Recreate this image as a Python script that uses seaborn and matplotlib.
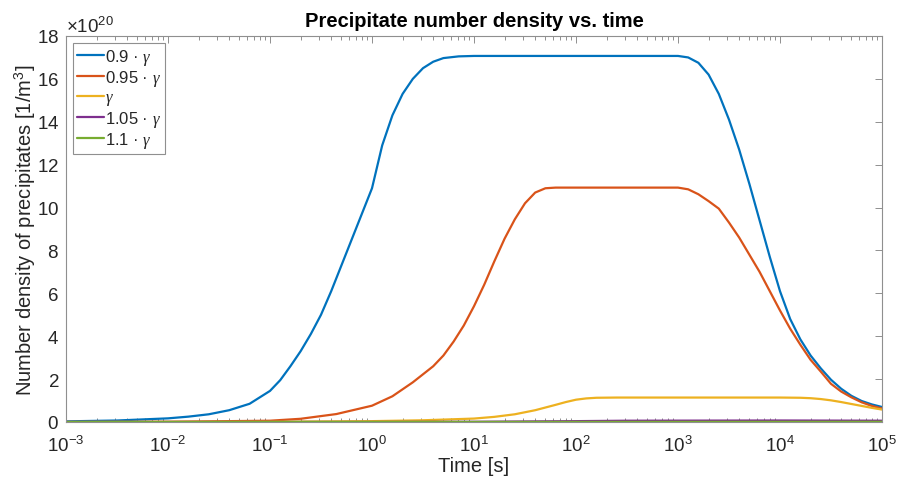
import numpy as np
import pandas as pd
import matplotlib
matplotlib.use("Agg")
import matplotlib.pyplot as plt
import seaborn as sns
from matplotlib.ticker import ScalarFormatter, LogLocator, MultipleLocator

# ---- data: time given as log10(t [s]); number density in units of 1e20 1/m^3 ----
labels = ["0.9 · $\\gamma$", "0.95 · $\\gamma$", "$\\gamma$", "1.05 · $\\gamma$", "1.1 · $\\gamma$"]
colors = ["#0072BD", "#D95319", "#EDB120", "#7E2F8E", "#77AC30"]

logt_a = [-3.0, -2.5, -2.2, -2.0, -1.8, -1.6, -1.4, -1.2, -1.0, -0.9, -0.8, -0.7, -0.6, -0.5,
          -0.4, -0.3, -0.2, -0.1, 0.0, 0.1, 0.2, 0.3, 0.4, 0.5, 0.6, 0.7, 0.85, 1.0, 3.0,
          3.1, 3.2, 3.3, 3.4, 3.5, 3.6, 3.7, 3.8, 3.9, 4.0, 4.1, 4.2, 4.3, 4.4, 4.5, 4.6,
          4.7, 4.8, 4.9, 5.0]
n_a = [0.03, 0.07, 0.13, 0.17, 0.25, 0.36, 0.55, 0.85, 1.45, 1.95, 2.6, 3.3, 4.1, 5.0,
       6.1, 7.3, 8.5, 9.7, 10.9, 12.9, 14.3, 15.3, 16.0, 16.5, 16.8, 16.97, 17.05, 17.07, 17.07,
       17.0, 16.75, 16.2, 15.3, 14.1, 12.7, 11.1, 9.4, 7.7, 6.1, 4.8, 3.85, 3.1, 2.5, 1.97, 1.55,
       1.22, 0.98, 0.82, 0.70]

logt_b = [-3.0, -2.0, -1.0, -0.7, -0.35, 0.0, 0.2, 0.4, 0.6, 0.7, 0.8, 0.9, 1.0, 1.1, 1.2,
          1.3, 1.4, 1.5, 1.6, 1.7, 1.8, 3.0, 3.1, 3.2, 3.3, 3.4, 3.5, 3.6, 3.7, 3.8, 3.9,
          4.0, 4.1, 4.2, 4.3, 4.4, 4.5, 4.6, 4.7, 4.8, 4.9, 5.0]
n_b = [0.0, 0.01, 0.06, 0.15, 0.37, 0.76, 1.2, 1.85, 2.6, 3.1, 3.75, 4.5, 5.4, 6.4, 7.5,
       8.55, 9.45, 10.2, 10.7, 10.9, 10.93, 10.93, 10.85, 10.62, 10.3, 9.95, 9.3, 8.6, 7.8, 7.0, 6.1,
       5.2, 4.35, 3.6, 2.9, 2.35, 1.78, 1.42, 1.15, 0.92, 0.75, 0.63]

logt_c = [-3.0, -1.0, 0.0, 0.5, 1.0, 1.2, 1.4, 1.6, 1.8, 1.9, 2.0, 2.1, 2.2, 2.4, 4.0,
          4.2, 4.3, 4.4, 4.5, 4.6, 4.7, 4.8, 4.9, 5.0]
n_c = [0.0, 0.01, 0.04, 0.08, 0.16, 0.24, 0.36, 0.55, 0.8, 0.93, 1.04, 1.1, 1.13, 1.14, 1.14,
       1.13, 1.11, 1.07, 1.01, 0.93, 0.84, 0.75, 0.66, 0.58]

logt_d = [-3.0, 0.0, 1.0, 2.0, 2.5, 4.0, 5.0]
n_d = [0.0, 0.002, 0.01, 0.04, 0.06, 0.07, 0.06]

logt_e = [-3.0, 0.0, 2.0, 4.0, 5.0]
n_e = [0.0, 0.003, 0.005, 0.008, 0.01]

series_logt = [logt_a, logt_b, logt_c, logt_d, logt_e]
series_n = [n_a, n_b, n_c, n_d, n_e]

frames = []
for lab, lt, nn in zip(labels, series_logt, series_n):
    frames.append(pd.DataFrame({"t": 10.0 ** np.array(lt), "n": np.array(nn) * 1e20,
                                "series": lab}))
df = pd.concat(frames, ignore_index=True)

# ---- style ----
sns.set_theme(style="white")
plt.rcParams["font.family"] = ["Liberation Sans", "DejaVu Sans"]
plt.rcParams["mathtext.fontset"] = "custom"
plt.rcParams["mathtext.rm"] = "Liberation Sans"
plt.rcParams["mathtext.it"] = "Liberation Serif:italic"
plt.rcParams["axes.unicode_minus"] = False

fig = plt.figure(figsize=(8.97, 4.81), dpi=100)
ax = fig.add_axes([66 / 897, (481 - 423) / 481, 816 / 897, 386 / 481])

sns.lineplot(data=df, x="t", y="n", hue="series", hue_order=labels, palette=colors,
             estimator=None, sort=False, linewidth=1.6, ax=ax)

ax.set_xscale("log")
ax.set_xlim(1e-3, 1e5)
ax.set_ylim(0, 18e20)
ax.yaxis.set_major_locator(MultipleLocator(2e20))
fmt = ScalarFormatter(useMathText=True)
fmt.set_powerlimits((20, 20))
ax.yaxis.set_major_formatter(fmt)
ax.xaxis.set_major_locator(LogLocator(base=10, numticks=20))
ax.xaxis.set_minor_locator(LogLocator(base=10, subs=np.arange(2, 10), numticks=100))

axcol = "#8f8f8f"
txtcol = "#262626"
for s in ax.spines.values():
    s.set_color(axcol)
    s.set_linewidth(0.8)
    s.set_visible(True)
ax.tick_params(which="both", direction="in", top=True, right=True, color=axcol,
               labelcolor=txtcol, labelsize=13.5, width=0.7)
ax.tick_params(which="major", length=5, pad=5)
ax.tick_params(axis="x", which="major", pad=9)
ax.tick_params(which="minor", length=3, bottom=True, top=True)
ax.yaxis.get_offset_text().set_fontsize(13.5)
ax.yaxis.get_offset_text().set_color(txtcol)

ax.set_xlabel("Time [s]", fontsize=14.5, color=txtcol, labelpad=1)
ax.set_ylabel("Number density of precipitates [1/m$^3$]", fontsize=14.5, color=txtcol,
              labelpad=-1)
ax.set_title("Precipitate number density vs. time", fontsize=14.5, fontweight="bold",
             color="black", pad=7)

leg = ax.legend(loc="upper left", fontsize=12, frameon=True, fancybox=False,
                edgecolor=axcol, handlelength=1.6, handletextpad=0.1, labelspacing=0.08,
                borderpad=0.25, borderaxespad=0.4, framealpha=1)
leg.get_frame().set_linewidth(0.8)
for txt in leg.get_texts():
    txt.set_color(txtcol)

fig.savefig("out.png", dpi=100)
